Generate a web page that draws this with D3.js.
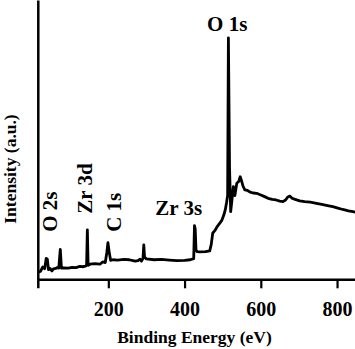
<!DOCTYPE html>
<html>
<head>
<meta charset="utf-8">
<script src="https://cdn.jsdelivr.net/npm/d3@7"></script>
<style>
  html, body { margin: 0; padding: 0; background: #fff; }
  svg { display: block; }
  text { font-family: "Liberation Serif", "Times New Roman", serif; font-weight: bold; fill: #000; }
</style>
</head>
<body>
<div id="chart"></div>
<script>
const width = 355;
const height = 349;

// XPS survey spectrum (eV, a.u.)
const energy = [15, 22, 28, 33, 37, 40, 43, 47, 52, 56, 62, 66, 70, 74, 77, 82, 95, 105, 115, 125,
    134, 140, 143, 145, 147, 152, 165, 178, 185, 192, 196, 199, 202, 206, 212, 225, 240, 255, 270, 278,
    283, 287, 291, 293, 295, 300, 320, 340, 360, 380, 400, 415, 424, 426, 428, 430, 433, 440, 455, 466,
    470, 474, 480, 485, 492, 498, 503, 507, 510, 513, 515, 518, 521, 524, 528, 532, 537, 542, 546, 549,
    553, 558, 565, 572, 580, 589, 600, 610, 619, 630, 640, 650, 658, 665, 671, 676, 682, 690, 702, 715,
    730, 746, 760, 775, 789, 800, 815, 830, 842, 850];
const intensity = [2.6, 2.8, 4.4, 3.8, 7.5, 7.2, 3.5, 3.9, 3.0, 3.7, 3.9, 4.2, 4.0, 10.7, 4.0, 4.1, 4.0, 4.3, 4.2, 4.6,
    4.5, 4.7, 5.0, 17.7, 5.0, 5.4, 5.6, 5.4, 6.2, 6.0, 9.5, 13.1, 10.0, 6.8, 7.0, 6.9, 7.1, 7.0, 6.5, 6.7,
    7.2, 6.5, 7.5, 12.3, 8.0, 7.3, 7.0, 7.1, 6.9, 6.7, 6.8, 7.0, 7.4, 19.2, 18.0, 10.5, 9.9, 9.8, 9.9, 10.2,
    12.5, 16.6, 17.5, 18.8, 20.0, 21.2, 23.0, 25.0, 27.3, 30.0, 86.4, 40.0, 24.2, 28.0, 33.2, 30.0, 34.4, 35.0, 36.7, 35.5,
    33.5, 32.0, 31.8, 31.2, 30.9, 30.8, 30.2, 29.6, 29.0, 28.6, 28.4, 28.0, 27.8, 28.4, 29.5, 29.8, 29.0, 28.6, 28.1, 27.8,
    27.6, 27.2, 26.8, 26.4, 26.0, 25.6, 25.0, 24.5, 24.2, 24.0];

const xTicks = [200, 400, 600, 800];

// peak labels: text, energy and intensity at the baseline start, rotated or not
const peakNames = ["O 2s", "Zr 3d", "C 1s", "Zr 3s", "O 1s"];
const peakEnergy = [65, 157, 233, 323, 459];
const peakLevel = [17, 23.5, 17, 23, 89];
const peakRotated = [true, true, true, false, false];

const x = d3.scaleLinear().domain([15, 850]).range([37.8, 356.1]);
const y = d3.scaleLinear().domain([0, 100]).range([279.3, 0]);

const svg = d3.select("#chart")
    .append("svg")
    .attr("width", width)
    .attr("height", height);

const data = energy.map((e, i) => ({ e: e, v: intensity[i] }));

const line = d3.line()
    .x(d => x(d.e))
    .y(d => y(d.v));

svg.append("path")
    .datum(data)
    .attr("fill", "none")
    .attr("stroke", "#000")
    .attr("stroke-width", 2.8)
    .attr("stroke-linejoin", "round")
    .attr("d", line);

// x axis
const xAxis = svg.append("g")
    .attr("transform", `translate(0,${y(0)})`)
    .call(d3.axisBottom(x)
        .tickValues(xTicks)
        .tickSize(9)
        .tickSizeOuter(9)
        .tickPadding(14)
        .tickFormat(d3.format("d")));

xAxis.select(".domain").attr("stroke-width", 2.5);
xAxis.selectAll(".tick line").attr("stroke-width", 2.2);
xAxis.selectAll(".tick text")
    .attr("font-size", 20)
    .attr("font-family", "Liberation Serif, serif")
    .attr("font-weight", "bold");

// y axis, plain line
const yAxis = svg.append("g")
    .attr("transform", `translate(${x(15)},0)`)
    .call(d3.axisLeft(y).ticks(0).tickSizeOuter(0));
yAxis.select(".domain").attr("stroke-width", 2.5);

// axis titles
svg.append("text")
    .attr("x", 194.5)
    .attr("y", 343)
    .attr("text-anchor", "middle")
    .attr("font-size", 17.5)
    .text("Binding Energy (eV)");

svg.append("text")
    .attr("transform", "translate(16,169) rotate(-90)")
    .attr("text-anchor", "middle")
    .attr("font-size", 17.5)
    .text("Intensity (a.u.)");

// peak labels
peakNames.forEach((name, i) => {
    const t = svg.append("text")
        .attr("font-size", 21)
        .text(name);
    if (peakRotated[i]) {
        t.attr("transform", `translate(${x(peakEnergy[i])},${y(peakLevel[i])}) rotate(-90)`);
    } else {
        t.attr("x", x(peakEnergy[i])).attr("y", y(peakLevel[i]));
    }
});
</script>
</body>
</html>
